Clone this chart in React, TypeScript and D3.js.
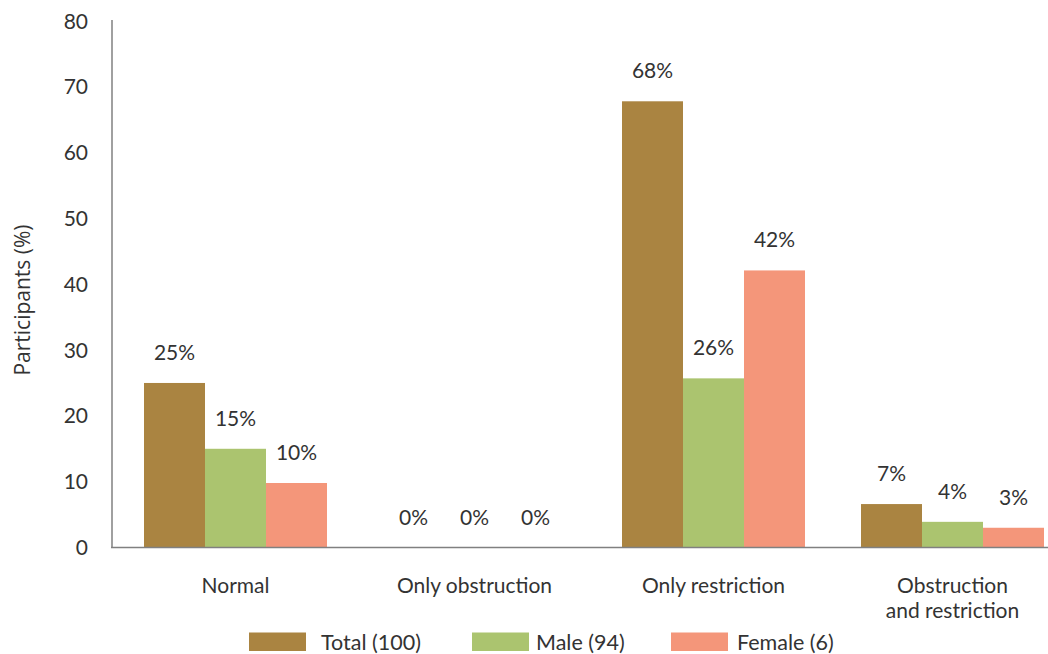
import React from "react";
import * as d3 from "d3";

const categories = ["Normal", "Only obstruction", "Only restriction", "Obstruction and restriction"];
const categoryLines = [["Normal"], ["Only obstruction"], ["Only restriction"], ["Obstruction", "and restriction"]];
const seriesNames = ["Total (100)", "Male (94)", "Female (6)"];
const seriesColors = ["#AA8441", "#ABC46F", "#F4967A"];
const totalValues = [25, 0, 67.8, 6.6];
const maleValues = [15, 0, 25.7, 3.9];
const femaleValues = [9.8, 0, 42.1, 3.0];
const totalLabels = ["25%", "0%", "68%", "7%"];
const maleLabels = ["15%", "0%", "26%", "4%"];
const femaleLabels = ["10%", "0%", "42%", "3%"];
const yTicks = [0, 10, 20, 30, 40, 50, 60, 70, 80];

const W = 1048;
const H = 654;
const FONT = "Lato, 'Open Sans', sans-serif";
const TEXT = "#333333";

export default function App() {
  const seriesValues = [totalValues, maleValues, femaleValues];
  const seriesLabels = [totalLabels, maleLabels, femaleLabels];
  const y = d3.scaleLinear().domain([0, 80]).range([547.5, 21]);
  const x = d3.scaleBand<string>().domain(categories).range([116, 1072]);
  const groupW = 183;
  const inner = d3.scaleBand<string>().domain(seriesNames).range([0, groupW]);
  const gx = (c: string) => (x(c) as number) + (x.bandwidth() - groupW) / 2;

  const legendX = [249, 472, 671];
  const legendTextX = [321, 536, 737];

  return (
    <svg width={W} height={H} style={{ position: "absolute", left: 0, top: 0, background: "#fff" }} fontFamily={FONT}>
      {/* y ticks */}
      {yTicks.map((t) => (
        <text key={t} x={88} y={y(t)} dy="0.36em" textAnchor="end" fontSize={21} fill={TEXT}>
          {t}
        </text>
      ))}
      <text
        transform={`translate(23,300) rotate(-90)`}
        textAnchor="middle"
        dy="0.35em"
        fontSize={21}
        fontFamily="'Open Sans', sans-serif"
        fill={TEXT}
      >
        Participants (%)
      </text>
      {/* bars */}
      {categories.map((c, ci) =>
        seriesNames.map((s, si) => {
          const v = seriesValues[si][ci];
          const bx = gx(c) + (inner(s) as number);
          return (
            <g key={c + s}>
              <rect x={bx} y={y(v)} width={inner.bandwidth()} height={y(0) - y(v)} fill={seriesColors[si]} />
              <text
                x={bx + inner.bandwidth() / 2}
                y={y(v) - 23}
                textAnchor="middle"
                fontSize={21}
                fill={TEXT}
              >
                {seriesLabels[si][ci]}
              </text>
            </g>
          );
        })
      )}
      {/* axes */}
      <line x1={112} x2={112} y1={20} y2={548} stroke="#808080" strokeWidth={1.5} />
      <line x1={111} x2={W} y1={547.5} y2={547.5} stroke="#808080" strokeWidth={1.5} />
      {/* category labels */}
      {categories.map((c, ci) => (
        <text key={c} x={(x(c) as number) + x.bandwidth() / 2} y={593} textAnchor="middle" fontSize={21} fill={TEXT}>
          {categoryLines[ci].map((l, li) => (
            <tspan key={li} x={(x(c) as number) + x.bandwidth() / 2} dy={li === 0 ? 0 : 25}>
              {l}
            </tspan>
          ))}
        </text>
      ))}
      {/* legend */}
      {seriesNames.map((s, si) => (
        <g key={s}>
          <rect x={legendX[si]} y={632.5} width={57} height={18.5} fill={seriesColors[si]} />
          <text x={legendTextX[si]} y={642} dy="0.36em" fontSize={21.5} fill={TEXT}>
            {s}
          </text>
        </g>
      ))}
    </svg>
  );
}
